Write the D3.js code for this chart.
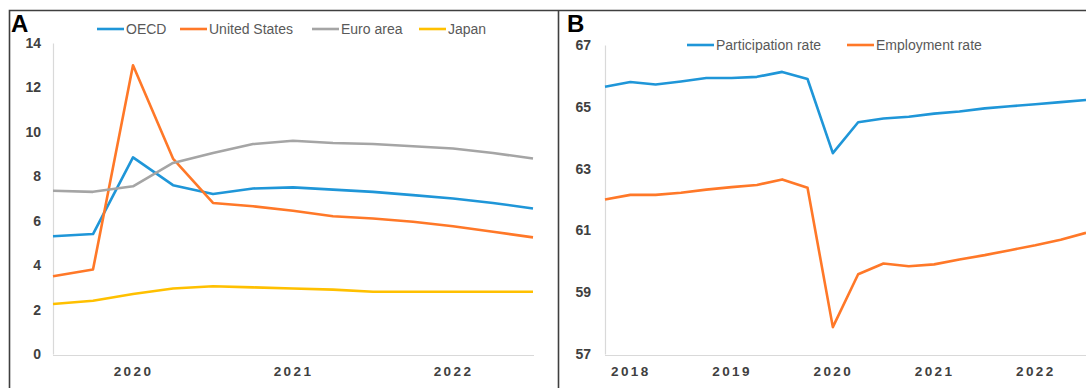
<!DOCTYPE html>
<html>
<head>
<meta charset="utf-8">
<script src="https://cdn.jsdelivr.net/npm/d3@7"></script>
<style>
  html, body { margin: 0; padding: 0; background: #fff; }
  svg { display: block; }
</style>
</head>
<body>
<svg id="chart" width="1086" height="388"></svg>
<script>
// Panel A: unemployment rate (%), quarterly
const quartersA = ["2019Q4","2020Q1","2020Q2","2020Q3","2020Q4","2021Q1","2021Q2",
                   "2021Q3","2021Q4","2022Q1","2022Q2","2022Q3","2022Q4"];
const oecd         = [5.3, 5.4, 8.85, 7.6, 7.2, 7.45, 7.5, 7.4, 7.3, 7.15, 7.0, 6.8, 6.55];
const unitedStates = [3.5, 3.8, 13.0, 8.8, 6.8, 6.65, 6.45, 6.2, 6.1, 5.95, 5.75, 5.5, 5.25];
const euroArea     = [7.35, 7.3, 7.55, 8.6, 9.05, 9.45, 9.6, 9.5, 9.45, 9.35, 9.25, 9.05, 8.8];
const japan        = [2.25, 2.4, 2.7, 2.95, 3.05, 3.0, 2.95, 2.9, 2.8, 2.8, 2.8, 2.8, 2.8];
const yTicksA = [0, 2, 4, 6, 8, 10, 12, 14];
const yearTicksA = ["2020Q2", "2021Q2", "2022Q2"];

// Panel B: participation and employment rates (%), quarterly
const quartersB = ["2018Q1","2018Q2","2018Q3","2018Q4","2019Q1","2019Q2","2019Q3","2019Q4",
                   "2020Q1","2020Q2","2020Q3","2020Q4","2021Q1","2021Q2","2021Q3","2021Q4",
                   "2022Q1","2022Q2","2022Q3","2022Q4"];
const participation = [65.65, 65.8, 65.72, 65.82, 65.93, 65.93, 65.97, 66.13, 65.9, 63.5,
                       64.5, 64.62, 64.68, 64.78, 64.85, 64.95, 65.02, 65.08, 65.15, 65.22];
const employment    = [62.0, 62.15, 62.15, 62.22, 62.32, 62.4, 62.47, 62.65, 62.38, 57.87,
                       59.58, 59.93, 59.84, 59.9, 60.06, 60.2, 60.36, 60.52, 60.7, 60.92];
const yTicksB = [57, 59, 61, 63, 65, 67];
const yearTicksB = ["2018Q2", "2019Q2", "2020Q2", "2021Q2", "2022Q2"];

const colors = {
  blue: "#1f96d8",
  orange: "#ff7828",
  gray: "#a5a5a5",
  yellow: "#ffc000"
};

const svg = d3.select("#chart");
const tickFont = "'Liberation Sans', Arial, sans-serif";

// frame around both panels
svg.append("path")
  .attr("d", "M9.5,400 V10.5 H1100 M558.5,10.5 V400")
  .attr("fill", "none")
  .attr("stroke", "#3f3f3f")
  .attr("stroke-width", 1.6);

function panelLetter(text, x) {
  svg.append("text")
    .attr("x", x).attr("y", 32)
    .attr("font-family", "'Liberation Sans', Arial, sans-serif")
    .attr("font-weight", "bold")
    .attr("font-size", 24)
    .attr("fill", "#000")
    .text(text);
}

function drawPanel(cfg) {
  const g = svg.append("g");
  const x = d3.scalePoint().domain(cfg.categories).range(cfg.xRange);
  const y = d3.scaleLinear().domain(cfg.yDomain).range(cfg.yRange);

  // y axis
  const ya = g.append("g")
    .attr("transform", `translate(${cfg.xRange[0]},0)`)
    .call(d3.axisLeft(y).tickValues(cfg.yTicks).tickSize(0).tickSizeOuter(0).tickPadding(cfg.yPad));
  ya.select(".domain").attr("stroke", "#d9d9d9").attr("stroke-width", 1.2);
  ya.selectAll("text")
    .attr("font-family", tickFont)
    .attr("font-weight", "bold")
    .attr("font-size", 14)
    .attr("fill", "#404040");

  // x axis
  const xa = g.append("g")
    .attr("transform", `translate(0,${cfg.yRange[0] + 1})`)
    .call(d3.axisBottom(x).tickValues(cfg.yearTicks).tickSize(0).tickSizeOuter(0)
      .tickFormat(d => d.slice(0, 4)));
  xa.select(".domain")
    .attr("d", `M${cfg.xRange[0]},0.5H${cfg.axisEnd}`)
    .attr("stroke", "#d9d9d9").attr("stroke-width", 1.2);
  xa.selectAll("text")
    .attr("y", 11)
    .attr("font-family", tickFont)
    .attr("font-weight", "bold")
    .attr("font-size", 13.5)
    .attr("letter-spacing", 2.4)
    .attr("fill", "#404040");

  // series lines
  const line = d3.line().x((d, i) => x(cfg.categories[i])).y(d => y(d));
  cfg.series.forEach(s => {
    g.append("path")
      .datum(s.values)
      .attr("d", line)
      .attr("fill", "none")
      .attr("stroke", s.color)
      .attr("stroke-width", 2.6)
      .attr("stroke-linejoin", "round");
  });

  // legend
  cfg.series.forEach(s => {
    g.append("line")
      .attr("x1", s.lx).attr("x2", s.lx + 27)
      .attr("y1", cfg.legendY).attr("y2", cfg.legendY)
      .attr("stroke", s.color).attr("stroke-width", 2.6);
    g.append("text")
      .attr("x", s.lx + 29).attr("y", cfg.legendY + 5)
      .attr("font-family", tickFont)
      .attr("font-size", 14)
      .attr("fill", "#595959")
      .text(s.name);
  });
}

drawPanel({
  categories: quartersA,
  xRange: [53, 533],
  axisEnd: 534,
  yDomain: [0, 14],
  yRange: [354, 43],
  yTicks: yTicksA,
  yearTicks: yearTicksA,
  yPad: 12,
  legendY: 29,
  series: [
    { name: "OECD", values: oecd, color: colors.blue, lx: 97 },
    { name: "United States", values: unitedStates, color: colors.orange, lx: 180 },
    { name: "Euro area", values: euroArea, color: colors.gray, lx: 312 },
    { name: "Japan", values: japan, color: colors.yellow, lx: 419 }
  ]
});

drawPanel({
  categories: quartersB,
  xRange: [605, 1086],
  axisEnd: 1086,
  yDomain: [57, 67],
  yRange: [354, 45],
  yTicks: yTicksB,
  yearTicks: yearTicksB,
  yPad: 14,
  legendY: 45,
  series: [
    { name: "Participation rate", values: participation, color: colors.blue, lx: 687 },
    { name: "Employment rate", values: employment, color: colors.orange, lx: 847 }
  ]
});

panelLetter("A", 11);
panelLetter("B", 567);
</script>
</body>
</html>
